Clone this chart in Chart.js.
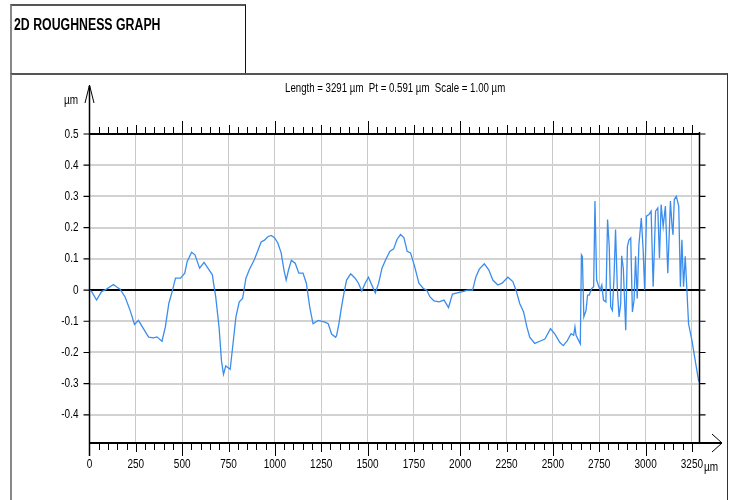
<!DOCTYPE html>
<html><head><meta charset="utf-8">
<script src="https://cdn.jsdelivr.net/npm/chart.js@4"></script>
<style>
html,body{margin:0;padding:0;background:#fff;width:730px;height:500px;overflow:hidden;}
#wrap{position:absolute;left:0;top:0;width:730px;height:500px;}
.t{position:absolute;font-family:'Liberation Sans',Arial,sans-serif;color:#000;white-space:nowrap;line-height:1;transform-origin:0 50%;transform:scaleX(0.8);}
</style></head><body>
<div id="wrap"><canvas id="c" width="730" height="500"></canvas></div>
<div style="position:absolute;left:10px;top:4px;width:236px;height:71px;border-top:2px solid #555;border-left:2px solid #888;border-right:1px solid #111;box-sizing:border-box;"></div>
<div style="position:absolute;left:10px;top:73px;width:718px;height:440px;border-top:2px solid #555;border-left:2px solid #888;border-right:1px solid #333;box-sizing:border-box;"></div>
<div class="t" style="left:14px;top:17px;font-size:16px;font-weight:bold;transform:scaleX(0.77);">2D ROUGHNESS GRAPH</div>
<div class="t" style="left:285px;top:82px;font-size:12px;transform:scaleX(0.806);">Length = 3291 µm&nbsp; Pt = 0.591 µm&nbsp; Scale = 1.00 µm</div>
<div class="t" style="left:64px;top:93px;font-size:13px;transform:scaleX(0.77);">µm</div>
<div class="t" style="left:704px;top:460px;font-size:13px;transform:scaleX(0.77);">µm</div>
<script>
// profile position (µm) and height (µm)
const xs = [0,12,38,65,92,129,147,165,192,219,243,264,286,319,346,364,391,409,428,446,464,491,514,527,551,569,594,618,645,663,
668,681,699,712,723,735,748,759,772,790,808,826,844,862,889,907,926,944,962,980,998,1016,1034,1049,1061,1074,1089,1110,1129,1152,1170,1188,1206,1234,1270,1288,1306,1328,
1333,1345,1358,1372,1387,1409,1433,1451,1469,1487,1505,1523,1542,1560,1578,1596,1620,1641,1659,1678,1696,1714,1732,1754,1777,1801,1819,1837,1859,1886,1913,1937,1958,1985,2013,
2040,2067,2085,2103,2130,2154,2176,2203,2226,2257,2284,2302,2321,2342,2360,2375,2402,2429,2457,2487,2511,2538,2556,2578,2598,2612,2619,2625,2648,
2654,2659,2667,2679,2687,2696,2709,2720,2727,2736,2745,2755,2764,2773,2786,2795,2804,2812,2821,2830,2838,2848,2857,2866,2871,2880,2893,2902,2911,2920,2929,2938,2946,2955,2964,2977,2987,2995,3005,3018,3030,3041,3054,3066,3075,3084,3095,3107,3120,3134,3143,3148,3155,3166,3179,3188,3196,3205,3214,3223,3232,3250,3268,3286,3291];
const ys = [0,-0.005,-0.032,-0.005,0.003,0.018,0.01,0.003,-0.022,-0.065,-0.11,-0.097,-0.119,-0.151,-0.153,-0.15,-0.164,-0.119,-0.043,-0.005,0.038,0.038,0.054,0.092,0.121,0.113,0.07,0.089,0.065,0.049,
0.027,-0.022,-0.119,-0.227,-0.27,-0.243,-0.249,-0.254,-0.184,-0.086,-0.038,-0.027,0.038,0.065,0.097,0.124,0.154,0.16,0.171,0.175,0.168,0.151,0.119,0.065,0.032,0.065,0.095,0.086,0.054,0.054,0.022,-0.054,-0.108,-0.097,-0.103,-0.108,-0.141,-0.151,
-0.146,-0.11,-0.06,-0.012,0.032,0.052,0.038,0.022,-0.003,0.022,0.041,0.016,-0.009,0.022,0.07,0.095,0.124,0.132,0.162,0.178,0.168,0.124,0.119,0.076,0.022,0.005,0,-0.022,-0.035,-0.038,-0.032,-0.056,-0.013,-0.009,-0.005,
0,0,0.043,0.067,0.084,0.065,0.032,0.016,0.022,0.041,0.027,-0.002,-0.043,-0.07,-0.119,-0.151,-0.171,-0.164,-0.157,-0.124,-0.141,-0.168,-0.178,-0.162,-0.14,-0.145,-0.118,-0.145,-0.172,
0.113,0.108,-0.086,-0.065,-0.016,-0.016,0.005,0.011,0.285,0.032,0.016,0,0.016,-0.032,-0.038,0.226,0.14,-0.054,-0.065,0.043,0.194,0,-0.086,-0.043,0.11,0.07,-0.129,0.14,0.161,0.167,-0.07,-0.032,0.108,-0.027,0.145,0.231,0.129,0,0.237,0.242,0.253,0.011,0.253,0.263,0.102,0.274,0.204,0.269,0.054,0.285,0.204,0.177,0.29,0.3,0.269,0.011,0.161,0.011,0.108,0,-0.108,-0.161,-0.226,-0.29,-0.295];
const xTicks = [0,250,500,750,1000,1250,1500,1750,2000,2250,2500,2750,3000,3250];
const yTicks = [-0.4,-0.3,-0.2,-0.1,0,0.1,0.2,0.3,0.4,0.5];
const minorX = []; for (let v = 0; v <= 3250; v += 50) minorX.push(v);

const FONT = {family:"'Liberation Sans',Arial,sans-serif", size:13};
const SQUEEZE = 0.77;

const canvas = document.getElementById('c');
const cctx = canvas.getContext('2d');
// condensed text rendering (narrow typeface look of the original)
const origFill = cctx.fillText.bind(cctx);
cctx.fillText = function(text, x, y, maxW){
  this.save();
  this.translate(x, y);
  this.scale(SQUEEZE, 1);
  if (maxW === undefined) origFill(text, 0, 0); else origFill(text, 0, 0, maxW / SQUEEZE);
  this.restore();
};

const decor = {
  id:'decor',
  beforeDatasetsDraw(chart){
    const ctx = chart.ctx, a = chart.chartArea, ys_ = chart.scales.y;
    ctx.save();
    ctx.strokeStyle = '#000';
    ctx.lineWidth = 2;
    ctx.beginPath();
    const y0 = ys_.getPixelForValue(0), yTop = ys_.getPixelForValue(0.5);
    ctx.moveTo(a.left, y0); ctx.lineTo(a.right, y0);
    ctx.moveTo(a.left, yTop); ctx.lineTo(a.right, yTop);
    ctx.stroke();
    ctx.restore();
  },
  afterDraw(chart){
    const ctx = chart.ctx, a = chart.chartArea, sx = chart.scales.x, sy = chart.scales.y;
    ctx.save();
    ctx.strokeStyle = '#000';
    const yTop = sy.getPixelForValue(0.5);
    ctx.lineWidth = 1.5;
    ctx.beginPath();
    ctx.moveTo(a.left, 86); ctx.lineTo(a.left, a.bottom + 13);
    ctx.stroke();
    ctx.lineWidth = 1;
    ctx.beginPath();
    ctx.moveTo(a.left - 4.5, 103); ctx.lineTo(a.left, 85); ctx.lineTo(a.left + 4.5, 103);
    ctx.stroke();
    ctx.lineWidth = 1.5;
    ctx.beginPath();
    ctx.moveTo(a.right, yTop - 2); ctx.lineTo(a.right, a.bottom);
    ctx.stroke();
    ctx.lineWidth = 1.2;
    ctx.beginPath();
    yTicks.forEach(v => {
      const p = sy.getPixelForValue(v);
      ctx.moveTo(a.left - 6, p); ctx.lineTo(a.left, p);
      ctx.moveTo(a.right, p); ctx.lineTo(a.right + 6, p);
    });
    ctx.stroke();
    ctx.lineWidth = 2;
    ctx.beginPath();
    ctx.moveTo(a.left, a.bottom); ctx.lineTo(722, a.bottom);
    ctx.stroke();
    ctx.lineWidth = 1;
    ctx.beginPath();
    ctx.moveTo(712, a.bottom - 9); ctx.lineTo(722, a.bottom); ctx.lineTo(712, a.bottom + 9);
    ctx.stroke();
    ctx.lineWidth = 1;
    ctx.beginPath();
    minorX.forEach(v => {
      if (v === 0) return;
      const p = Math.round(sx.getPixelForValue(v)) + 0.5;
      const len = v % 500 === 0 ? 13 : (v % 250 === 0 ? 9 : 7);
      ctx.moveTo(p, a.bottom); ctx.lineTo(p, a.bottom + len);
      ctx.moveTo(p, yTop); ctx.lineTo(p, yTop - len);
    });
    ctx.stroke();
    ctx.restore();
  }
};

new Chart(canvas, {
  type:'line',
  data:{datasets:[{
    data: xs.map((x,i)=>({x:x, y:ys[i]})),
    borderColor:'#3b8ded', borderWidth:1.3, pointRadius:0, tension:0, fill:false
  }]},
  options:{
    responsive:false, animation:false, devicePixelRatio:1,
    layout:{padding:{left:0, right:30.5, top:134, bottom:0}},
    plugins:{legend:{display:false}, tooltip:{enabled:false}, title:{display:false}},
    scales:{
      x:{type:'linear', min:0, max:3291,
        afterBuildTicks: s => { s.ticks = xTicks.map(v=>({value:v})); },
        afterFit: s => { s.height = 57; },
        ticks:{autoSkip:false, maxRotation:0, padding:14, color:'#000', font:FONT, callback:v=>String(v)},
        grid:{color:'#c9c9c9', lineWidth:1, drawTicks:false},
        border:{display:false}
      },
      y:{min:-0.49, max:0.5,
        afterBuildTicks: s => { s.ticks = yTicks.map(v=>({value:v})); },
        afterFit: s => { s.width = 89.5; },
        ticks:{padding:11, color:'#000', font:FONT, callback:v=> (Math.abs(v)<1e-9 ? '0' : v.toFixed(1))},
        grid:{color:'#d2d2d2', lineWidth:2, drawTicks:false},
        border:{display:false}
      }
    }
  },
  plugins:[decor]
});
</script>
</body></html>
